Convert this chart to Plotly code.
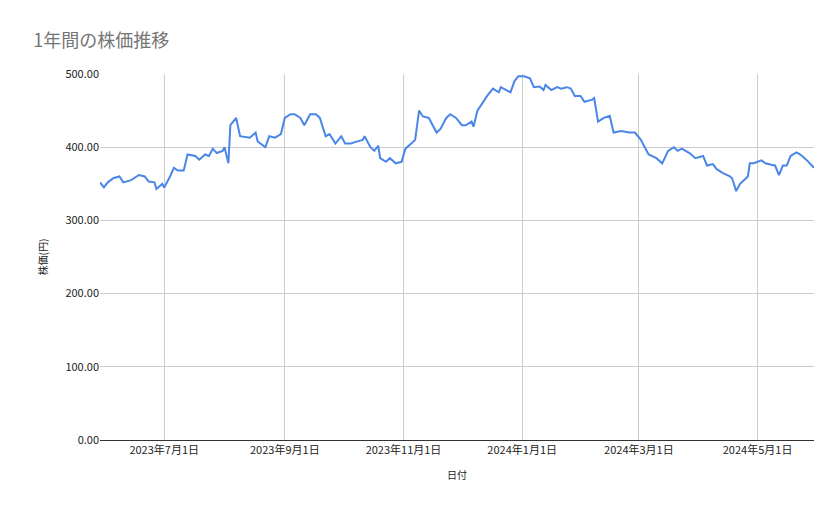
import plotly.graph_objects as go
import pandas as pd

# days since 2023-05-29 and closing price (yen)
days = [0, 2, 4, 7, 10, 12, 16, 18, 20, 23, 25, 28, 29, 32, 33, 36, 38, 40, 43, 45,
        49, 51, 54, 56, 58, 60, 63, 64, 66, 67, 70, 72, 74, 77, 80, 81, 85, 87, 90, 93,
        95, 98, 100, 103, 105, 108, 111, 113, 116, 118, 121, 124, 126, 129, 131, 135, 136, 139, 141, 143,
        144, 147, 149, 152, 155, 157, 160, 162, 164, 166, 169, 171, 173, 175, 178, 180, 183, 186, 188, 191,
        192, 194, 197, 199, 202, 205, 206, 209, 211, 213, 215, 218, 221, 223, 226, 228, 229, 232, 235, 237,
        240, 242, 244, 247, 249, 253, 254, 256, 259, 262, 264, 268, 272, 275, 278, 280, 282, 286, 289, 292,
        295, 297, 299, 303, 306, 310, 312, 315, 317, 320, 324, 325, 327, 329, 333, 334, 336, 340, 342, 345,
        347, 349, 351, 353, 355, 358, 360, 363, 365, 367]
prices = [352, 345, 352, 358, 360, 352, 355, 358, 362, 360, 353, 352, 343, 350, 345, 360, 372, 368, 368, 390,
          388, 383, 390, 388, 398, 392, 395, 400, 378, 430, 440, 415, 414, 413, 420, 408, 400, 415, 413, 418,
          440, 445, 445, 440, 430, 445, 445, 440, 415, 418, 405, 415, 405, 405, 407, 410, 415, 400, 395, 402,
          385, 380, 385, 378, 380, 398, 405, 410, 450, 442, 440, 430, 420, 425, 440, 445, 440, 430, 430, 435,
          428, 450, 462, 470, 480, 475, 482, 478, 475, 490, 497, 497, 494, 482, 483, 478, 485, 478, 482, 480,
          482, 480, 470, 470, 462, 465, 467, 435, 440, 443, 420, 422, 420, 420, 410, 400, 390, 385, 378, 395,
          400, 395, 398, 392, 385, 388, 375, 377, 370, 365, 360, 357, 340, 350, 360, 378, 378, 382, 378, 376,
          375, 362, 375, 375, 388, 393, 390, 383, 378, 372]

dates = pd.Timestamp("2023-05-29") + pd.to_timedelta(days, unit="D")
tick_dates = ["2023-07-01", "2023-09-01", "2023-11-01", "2024-01-01", "2024-03-01", "2024-05-01"]
tick_labels = ["2023年7月1日", "2023年9月1日", "2023年11月1日", "2024年1月1日", "2024年3月1日", "2024年5月1日"]

fig = go.Figure(go.Scatter(x=dates, y=prices, mode="lines",
                           line=dict(color="#4a86e8", width=2)))

fig.update_layout(
    width=839, height=519,
    paper_bgcolor="white", plot_bgcolor="white",
    font=dict(family="Noto Sans CJK JP, Roboto, sans-serif", size=11, color="#222"),
    title=dict(text="1年間の株価推移", x=0.03, y=0.95, xanchor="left",
               font=dict(size=18, color="#757575")),
    margin=dict(l=92, r=33, t=66, b=87),
    showlegend=False,
)
fig.update_xaxes(title_text="日付", title_font_size=10, tickvals=tick_dates, ticktext=tick_labels,
                 range=[dates[0], dates[-1]], showgrid=True, gridcolor="#cccccc",
                 showline=True, linecolor="#333", ticks="")
fig.update_yaxes(title_text="株価(円)", title_font_size=10, range=[0, 500], dtick=100, tickformat=".2f",
                 showgrid=True, gridcolor="#cccccc", zeroline=False, ticks="")

fig.write_html("out.html")
